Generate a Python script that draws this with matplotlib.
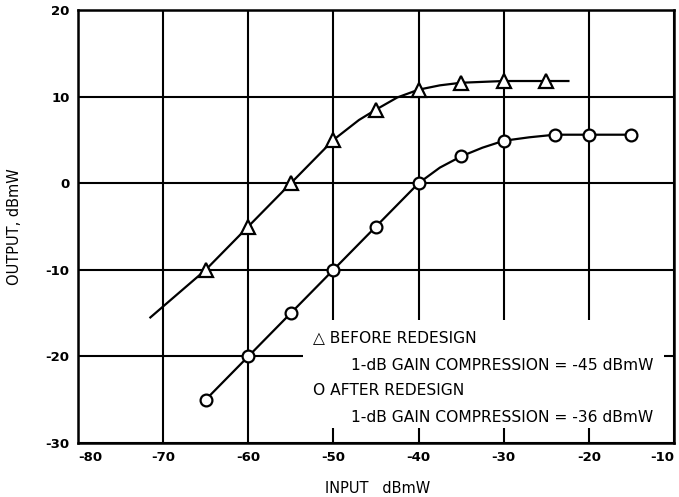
import matplotlib.pyplot as plt
from matplotlib.patches import Rectangle

# before redesign (triangles)
before_x = [-65, -60, -55, -50, -45, -40, -35, -30, -25]
before_y = [-10, -5, 0, 5, 8.5, 10.8, 11.6, 11.8, 11.8]
# curve drawn through the triangles, with its ends
before_curve_x = [-71.5, -65, -60, -55, -50, -47, -45, -42.5, -40, -37.5, -35, -30, -25, -22.4]
before_curve_y = [-15.5, -10, -5, 0, 5, 7.3, 8.5, 9.9, 10.8, 11.3, 11.6, 11.8, 11.8, 11.8]

# after redesign (circles)
after_x = [-65, -60, -55, -50, -45, -40, -35, -30, -24, -20, -15]
after_y = [-25, -20, -15, -10, -5, 0, 3.1, 4.9, 5.6, 5.6, 5.6]
after_curve_x = [-65, -60, -55, -50, -45, -40, -37.5, -35, -32.5, -30, -27, -24, -20, -15]
after_curve_y = [-25, -20, -15, -10, -5, 0, 1.8, 3.1, 4.1, 4.9, 5.3, 5.6, 5.6, 5.6]

x_ticks = [-80, -70, -60, -50, -40, -30, -20, -10]
y_ticks = [-30, -20, -10, 0, 10, 20]

legend_lines = [
    ("\u25b3 BEFORE REDESIGN", 0.0),
    ("1-dB GAIN COMPRESSION = -45 dBmW", 0.063),
    ("O AFTER REDESIGN", 0.0),
    ("1-dB GAIN COMPRESSION = -36 dBmW", 0.063),
]

plt.rcParams["font.family"] = ["DejaVu Sans"]

fig = plt.figure(figsize=(6.79, 4.97), dpi=100)
ax = fig.add_axes([78 / 679, 54 / 497, 596 / 679, 433 / 497])

ax.set_xlim(-80, -10)
ax.set_ylim(-30, 20)
ax.set_xticks(x_ticks)
ax.set_yticks(y_ticks)
ax.set_xticklabels([str(t) for t in x_ticks], fontsize=9.5, fontweight="bold")
ax.set_yticklabels([str(t) for t in y_ticks], fontsize=9.5, fontweight="bold")
ax.tick_params(length=0, pad=6)
ax.get_xticklabels()[0].set_horizontalalignment("left")
ax.get_xticklabels()[-1].set_horizontalalignment("right")
for s in ax.spines.values():
    s.set_linewidth(1.8)

ax.grid(True, color="black", linewidth=1.5, zorder=1)
ax.set_axisbelow(True)

# blank area behind the legend text
ax.add_patch(Rectangle((0.378, 0.035), 0.605, 0.25, transform=ax.transAxes,
                       facecolor="white", edgecolor="none", zorder=2))

ax.plot(before_curve_x, before_curve_y, color="black", linewidth=1.6, zorder=3)
ax.plot(before_x, before_y, linestyle="none", marker="^", markersize=10,
        markerfacecolor="white", markeredgecolor="black", markeredgewidth=1.6, zorder=4)
ax.plot(after_curve_x, after_curve_y, color="black", linewidth=1.6, zorder=3)
ax.plot(after_x, after_y, linestyle="none", marker="o", markersize=8.5,
        markerfacecolor="white", markeredgecolor="black", markeredgewidth=1.6, zorder=4)

ys = [0.2425, 0.18, 0.122, 0.06]
for (txt, indent), yy in zip(legend_lines, ys):
    ax.text(0.395 + indent, yy, txt, transform=ax.transAxes, fontsize=11.2,
            va="center", ha="left", zorder=5)

ax.set_xlabel("INPUT   dBmW", fontsize=10.5)
ax.xaxis.set_label_coords(0.503, -0.087)
ax.set_ylabel("OUTPUT, dBmW", fontsize=10.5)
ax.yaxis.set_label_coords(-0.094, 0.5)

fig.savefig("out.png", dpi=100)
